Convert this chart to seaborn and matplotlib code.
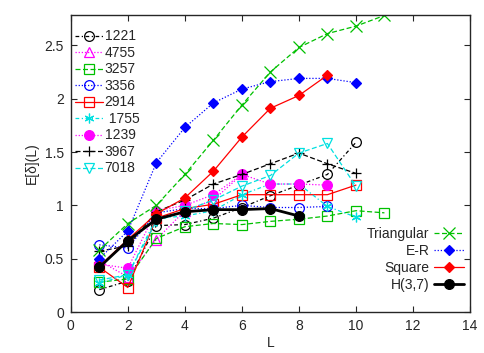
import matplotlib
matplotlib.use("Agg")
import matplotlib.pyplot as plt
import seaborn as sns

# walk lengths per series (L axis)
L11 = list(range(1, 12))

# individual networks
v1221 = [0.21, 0.29, 0.81, 0.82, 0.88, 0.98, 1.09, 1.19, 1.29, 1.59]
v4755 = [0.48, 0.33, 0.68, 0.95, 1.05, 1.29]
v3257 = [0.28, 0.31, 0.69, 0.80, 0.83, 0.82, 0.85, 0.87, 0.90, 0.95, 0.93]
v3356 = [0.63, 0.60, 0.93, 0.97, 0.97, 1.00, 0.98, 0.98, 0.99]
v2914 = [0.42, 0.23, 0.88, 0.97, 1.01, 1.10, 1.10, 1.10, 1.10, 1.19]
v1755 = [0.27, 0.35, 0.88, 0.90, 0.95, 1.10, 1.20, 1.20, 0.99, 0.89]
v1239 = [0.45, 0.41, 0.95, 1.00, 1.10, 1.29, 1.20, 1.20, 1.19]
v3967 = [0.57, 0.62, 0.94, 1.05, 1.20, 1.29, 1.39, 1.49, 1.39, 1.30]
v7018 = [0.30, 0.35, 0.85, 0.95, 1.05, 1.18, 1.28, 1.49, 1.58, 1.18]

# model graphs
triangular = [0.58, 0.83, 1.00, 1.29, 1.61, 1.94, 2.25, 2.48, 2.61, 2.68, 2.78]
erdos_renyi = [0.50, 0.76, 1.40, 1.73, 1.96, 2.09, 2.16, 2.19, 2.19, 2.15]
square = [0.43, 0.68, 0.92, 1.07, 1.32, 1.64, 1.91, 2.03, 2.22]
hamming = [0.42, 0.67, 0.87, 0.94, 0.96, 0.96, 0.97, 0.90]

GREEN = "#00c000"
CYAN = "#00e0e0"

sns.set_style("ticks")
plt.rcParams["font.family"] = ["Liberation Sans", "DejaVu Sans"]

fig, ax = plt.subplots(figsize=(4.85, 3.53), dpi=100)
fig.subplots_adjust(left=0.146, right=0.969, bottom=0.116, top=0.958)


def draw(vals, label, color, ls, marker, filled=False, ms=7, lw=0.9, mew=0.9):
    x = L11[:len(vals)]
    sns.lineplot(x=x, y=vals, ax=ax, color=color, linestyle=ls, linewidth=lw,
                 marker=marker, markersize=ms, markeredgewidth=mew,
                 markeredgecolor=color,
                 markerfacecolor=color if filled else "none",
                 label=label, legend=False)


dashdot = (0, (3, 2, 1, 2))
dotted = (0, (1, 1.5))
dashed = (0, (4, 2))

net_series = [
    (v1221, "1221", "black", dashdot, "o"),
    (v4755, "4755", "magenta", dotted, "^"),
    (v3257, "3257", GREEN, dashed, "s"),
    (v3356, "3356", "blue", dotted, "o"),
    (v2914, "2914", "red", "-", "s"),
    (v1755, " 1755", CYAN, dashdot, (6, 2, 0)),
    (v1239, "1239", "magenta", dotted, "o"),
    (v3967, "3967", "black", dashed, "+"),
    (v7018, "7018", CYAN, dashed, "v"),
]
for vals, lab, col, ls, mk in net_series:
    draw(vals, lab, col, ls, mk, filled=(lab == "1239"))

draw(triangular, "Triangular", GREEN, dashed, "x", ms=8)
draw(erdos_renyi, "E-R", "blue", dotted, "D", filled=True, ms=5)
draw(square, "Square", "red", "-", "D", filled=True, ms=5)
draw(hamming, "H(3,7)", "black", "-", "o", filled=True, ms=7, lw=2.0)

ax.set_xlim(0, 14)
ax.set_ylim(0, 2.786)
ax.set_xticks(range(0, 15, 2))
ax.set_yticks([0, 0.5, 1, 1.5, 2, 2.5])
ax.set_yticklabels(["0", "0.5", "1", "1.5", "2", "2.5"])
ax.set_xlabel("L", fontsize=10, labelpad=2)
ax.set_ylabel("E[δ](L)", fontsize=10, labelpad=4)
ax.tick_params(direction="in", top=True, right=True, labelsize=10, length=4,
               width=0.8, pad=5)
for s in ax.spines.values():
    s.set_linewidth(1.0)

handles, labels = ax.get_legend_handles_labels()
leg1 = ax.legend(handles[:9], labels[:9], loc="upper left", frameon=False,
                 fontsize=10, handlelength=2.0, handletextpad=0.15,
                 labelspacing=0.18, borderaxespad=0, borderpad=0.2,
                 bbox_to_anchor=(0.003, 0.96))
ax.add_artist(leg1)
leg2 = ax.legend(handles[9:], labels[9:], loc="lower right", frameon=False,
                 fontsize=10, handlelength=2.2, handletextpad=0.3,
                 labelspacing=0.22, markerfirst=False,
                 bbox_to_anchor=(1.017, 0.026))
for col in leg2._legend_handle_box.get_children():
    col.align = "right"

fig.savefig("out.png", dpi=100)
